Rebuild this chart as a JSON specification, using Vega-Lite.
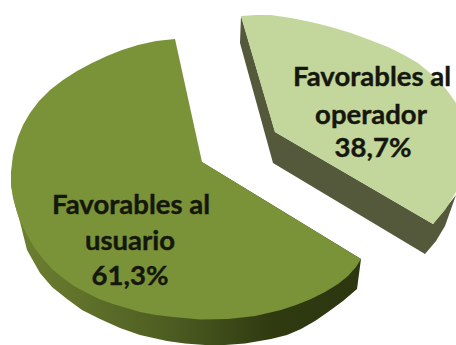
{
  "$schema": "https://vega.github.io/schema/vega-lite/v6.json",
  "width": 456,
  "height": 345,
  "padding": 0,
  "autosize": {"type": "none"},
  "background": "#ffffff",
  "view": {"stroke": null},
  "datasets": {
    "usuarioTop": [
      {"i":1,"x":175,"y":39},{"i":2,"x":202,"y":162},{"i":3,"x":361,"y":259},{"i":4,"x":356,"y":267},{"i":5,"x":348,"y":276},{"i":6,"x":338,"y":284},{"i":7,"x":325,"y":292},{"i":8,"x":311,"y":299},{"i":9,"x":296,"y":305},{"i":10,"x":281,"y":310},{"i":11,"x":255,"y":316},{"i":12,"x":228,"y":319},{"i":13,"x":200,"y":319.5},{"i":14,"x":173,"y":317},{"i":15,"x":156,"y":315},{"i":16,"x":140,"y":312},{"i":17,"x":113,"y":304},{"i":18,"x":99,"y":299},{"i":19,"x":87,"y":293},{"i":20,"x":74,"y":286},{"i":21,"x":63,"y":278},{"i":22,"x":52,"y":269},{"i":23,"x":43,"y":259},{"i":24,"x":34,"y":247},{"i":25,"x":27,"y":235},{"i":26,"x":21,"y":223},{"i":27,"x":17,"y":212},{"i":28,"x":13,"y":198},{"i":29,"x":11,"y":185},{"i":30,"x":11,"y":172},{"i":31,"x":13,"y":155},{"i":32,"x":18,"y":137},{"i":33,"x":23,"y":125},{"i":34,"x":30,"y":113},{"i":35,"x":39,"y":101},{"i":36,"x":50,"y":90},{"i":37,"x":63,"y":80},{"i":38,"x":77,"y":71},{"i":39,"x":92,"y":63},{"i":40,"x":107,"y":56},{"i":41,"x":122,"y":50},{"i":42,"x":138,"y":45},{"i":43,"x":156,"y":41},{"i":44,"x":175,"y":39}
    ],
    "usuarioSide": [
      {"i":1,"x":11,"y":185},{"i":2,"x":15,"y":205},{"i":3,"x":20,"y":222},{"i":4,"x":27,"y":250},{"i":5,"x":40,"y":273},{"i":6,"x":52,"y":287},{"i":7,"x":67,"y":299},{"i":8,"x":82,"y":310},{"i":9,"x":100,"y":319},{"i":10,"x":120,"y":328},{"i":11,"x":140,"y":335},{"i":12,"x":167,"y":341},{"i":13,"x":185,"y":343.5},{"i":14,"x":205,"y":345},{"i":15,"x":225,"y":345},{"i":16,"x":245,"y":343.5},{"i":17,"x":271,"y":339},{"i":18,"x":287,"y":335},{"i":19,"x":301,"y":329},{"i":20,"x":315,"y":321},{"i":21,"x":328,"y":312},{"i":22,"x":343,"y":301},{"i":23,"x":357,"y":289},{"i":24,"x":361,"y":259},{"i":25,"x":202,"y":162},{"i":26,"x":11,"y":185}
    ],
    "operadorTop": [
      {"i":1,"x":241,"y":16},{"i":2,"x":256,"y":15},{"i":3,"x":271,"y":15},{"i":4,"x":291,"y":18},{"i":5,"x":311,"y":22},{"i":6,"x":331,"y":27},{"i":7,"x":351,"y":33},{"i":8,"x":370,"y":40},{"i":9,"x":388,"y":47},{"i":10,"x":404,"y":55},{"i":11,"x":418,"y":63},{"i":12,"x":430,"y":73},{"i":13,"x":441,"y":83},{"i":14,"x":449,"y":93},{"i":15,"x":456,"y":103},{"i":16,"x":456,"y":192},{"i":17,"x":445,"y":210},{"i":18,"x":433,"y":224},{"i":19,"x":275,"y":132},{"i":20,"x":241,"y":16}
    ],
    "operadorSide": [
      {"i":1,"x":241,"y":16},{"i":2,"x":240,"y":43},{"i":3,"x":273,"y":163},{"i":4,"x":425,"y":254},{"i":5,"x":436,"y":241},{"i":6,"x":445,"y":226},{"i":7,"x":456,"y":195},{"i":8,"x":433,"y":224},{"i":9,"x":275,"y":132},{"i":10,"x":241,"y":16}
    ],
    "labels": [
      {"x":131,"y":214,"text":"Favorables al"},
      {"x":130,"y":250,"text":"usuario"},
      {"x":130,"y":285,"text":"61,3%"},
      {"x":372,"y":86,"text":"Favorables al"},
      {"x":371,"y":124,"text":"operador"},
      {"x":373,"y":157,"text":"38,7%"}
    ]
  },
  "encoding": {
    "x": {"field": "x", "type": "quantitative", "scale": {"domain": [0, 456]}, "axis": null},
    "y": {"field": "y", "type": "quantitative", "scale": {"domain": [345, 0]}, "axis": null},
    "order": {"field": "i", "type": "ordinal"}
  },
  "layer": [
    {
      "data": {"name": "usuarioSide"},
      "mark": {"type": "line", "strokeWidth": 0, "fill": {"gradient": "linear", "x1": 0, "x2": 1, "y1": 0, "y2": 0, "stops": [{"offset": 0, "color": "#6f8131"}, {"offset": 0.45, "color": "#4d5d22"}, {"offset": 0.75, "color": "#2f3a10"}, {"offset": 1, "color": "#2c3710"}]}}
    },
    {
      "data": {"name": "usuarioTop"},
      "mark": {"type": "line", "strokeWidth": 0, "fill": "#7a9339"}
    },
    {
      "data": {"name": "operadorSide"},
      "mark": {"type": "line", "strokeWidth": 0, "fill": "#53593a"}
    },
    {
      "data": {"name": "operadorTop"},
      "mark": {"type": "line", "strokeWidth": 0, "fill": "#c3d69b"}
    },
    {
      "data": {"name": "labels"},
      "mark": {"type": "text", "font": "Lato", "fontWeight": "bold", "fontSize": 27.5, "color": "#15170c", "stroke": "#15170c", "strokeWidth": 0.4, "baseline": "alphabetic", "align": "center"},
      "encoding": {"text": {"field": "text", "type": "nominal"}, "order": null}
    }
  ]
}
